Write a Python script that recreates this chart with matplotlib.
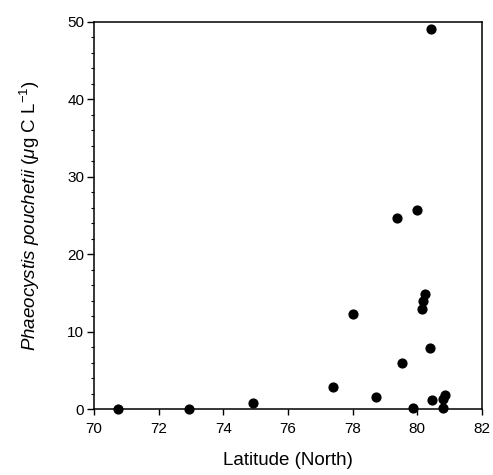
import matplotlib
matplotlib.use("Agg")
import matplotlib.pyplot as plt
from matplotlib.ticker import MultipleLocator

latitude = [70.75, 72.95, 74.91, 77.38, 78.0, 78.72, 79.36, 79.52, 79.88, 79.98,
            80.13, 80.16, 80.24, 80.39, 80.42, 80.45, 80.78, 80.80, 80.86]
biomass = [0.0, 0.0, 0.78, 2.79, 12.2, 1.59, 24.7, 5.88, 0.08, 25.7,
           12.94, 13.97, 14.84, 7.87, 49.0, 1.16, 0.13, 1.33, 1.76]

xticks = [70, 72, 74, 76, 78, 80, 82]
yticks = [0, 10, 20, 30, 40, 50]

plt.rcParams['font.family'] = ['Liberation Sans', 'DejaVu Sans']
plt.rcParams['mathtext.fontset'] = 'custom'
plt.rcParams['mathtext.rm'] = 'Liberation Sans'
plt.rcParams['mathtext.it'] = 'Liberation Sans:italic'
plt.rcParams['mathtext.bf'] = 'Liberation Sans:bold'

fig = plt.figure(figsize=(4.93, 4.75), dpi=100)
ax = fig.add_axes([0.1907, 0.1389, 0.787, 0.8158])

ax.scatter(latitude, biomass, s=40, color='black', zorder=3, clip_on=False)

ax.set_xlim(70, 82)
ax.set_ylim(0, 50)
ax.set_xticks(xticks)
ax.set_yticks(yticks)
ax.yaxis.set_minor_locator(MultipleLocator(2))

ax.tick_params(axis='x', which='major', direction='out', length=4, width=1, pad=5, labelsize=11)
ax.tick_params(axis='y', which='major', direction='out', length=5, width=1, pad=2, labelsize=11)
ax.tick_params(axis='y', which='minor', direction='out', length=2.5, width=0.8)

for sp in ax.spines.values():
    sp.set_linewidth(1.1)

ax.set_xlabel('Latitude (North)', fontsize=13.5, labelpad=12)
ax.set_ylabel(r'$\it{Phaeocystis\ pouchetii}$ ($\mu$g C L$^{-1}$)', fontsize=13.5, labelpad=18)

fig.savefig('out.png', dpi=100)
